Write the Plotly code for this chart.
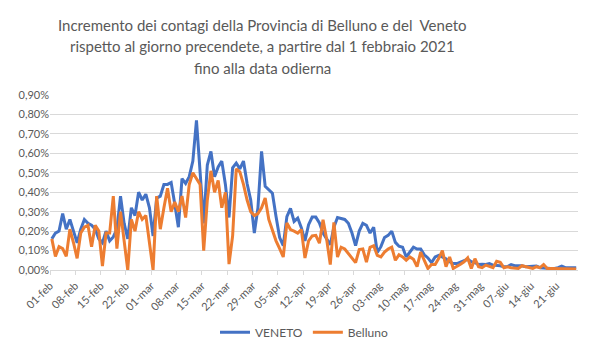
import pandas as pd
import plotly.graph_objects as go

start_date = "2021-02-01"

veneto = [
    0.16, 0.19, 0.20, 0.29, 0.21, 0.26, 0.20, 0.14, 0.21, 0.26,
    0.24, 0.23, 0.21, 0.16, 0.14, 0.20, 0.15, 0.17, 0.21, 0.38,
    0.24, 0.16, 0.32, 0.28, 0.40, 0.36, 0.39, 0.32, 0.175, 0.37,
    0.38, 0.44, 0.44, 0.45, 0.34, 0.22, 0.47, 0.445, 0.48, 0.56,
    0.77, 0.50, 0.24, 0.54, 0.61, 0.48, 0.53, 0.56, 0.44, 0.27,
    0.525, 0.55, 0.52, 0.56, 0.445, 0.36, 0.19, 0.32, 0.61, 0.43,
    0.41, 0.395, 0.275, 0.167, 0.125, 0.275, 0.317, 0.25, 0.267, 0.217,
    0.15, 0.233, 0.272, 0.272, 0.242, 0.19, 0.16, 0.13, 0.22, 0.27,
    0.265, 0.26, 0.24, 0.19, 0.125, 0.20, 0.24, 0.23, 0.19, 0.22,
    0.09, 0.12, 0.167, 0.178, 0.20, 0.142, 0.122, 0.117, 0.067, 0.092,
    0.117, 0.108, 0.108, 0.078, 0.062, 0.038, 0.067, 0.075, 0.067, 0.058,
    0.042, 0.033, 0.033, 0.04, 0.05, 0.055, 0.042, 0.038, 0.028, 0.03,
    0.028, 0.033, 0.025, 0.025, 0.022, 0.017, 0.018, 0.028, 0.022, 0.022,
    0.022, 0.017, 0.017, 0.018, 0.02, 0.012, 0.01, 0.008, 0.008, 0.008,
    0.012, 0.02, 0.012, 0.012, 0.012, 0.012,
]

belluno = [
    0.16, 0.07, 0.12, 0.11, 0.07, 0.21, 0.14, 0.06, 0.19, 0.22,
    0.23, 0.12, 0.23, 0.20, 0.02, 0.19, 0.19, 0.38, 0.11, 0.30,
    0.15, 0.00, 0.26, 0.20, 0.30, 0.26, 0.28, 0.14, 0.00, 0.38,
    0.21, 0.32, 0.42, 0.30, 0.35, 0.30, 0.38, 0.27, 0.44, 0.50,
    0.47, 0.44, 0.10, 0.36, 0.51, 0.40, 0.46, 0.32, 0.40, 0.03,
    0.175, 0.52, 0.505, 0.44, 0.36, 0.30, 0.28, 0.29, 0.32, 0.37,
    0.26, 0.20, 0.15, 0.11, 0.067, 0.242, 0.208, 0.20, 0.19, 0.208,
    0.062, 0.15, 0.175, 0.178, 0.138, 0.258, 0.158, 0.028, 0.245, 0.067,
    0.117, 0.108, 0.083, 0.058, 0.038, 0.105, 0.108, 0.04, 0.117, 0.125,
    0.075, 0.067, 0.092, 0.108, 0.117, 0.05, 0.078, 0.067, 0.05, 0.067,
    0.055, 0.017, 0.092, 0.05, 0.008, 0.028, 0.028, 0.06, 0.10, 0.017,
    0.067, 0.008, 0.017, 0.03, 0.042, 0.062, 0.008, 0.058, 0.017, 0.012,
    0.025, 0.018, 0.012, 0.045, 0.04, 0.012, 0.017, 0.012, 0.01, 0.008,
    0.022, 0.017, 0.012, 0.008, 0.017, 0.012, 0.028, 0.008, 0.008, 0.008,
    0.008, 0.005, 0.005, 0.005, 0.005, 0.005,
]

tick_labels = [
    "01-feb", "08-feb", "15-feb", "22-feb", "01-mar", "08-mar", "15-mar",
    "22-mar", "29-mar", "05-apr", "12-apr", "19-apr", "26-apr", "03-mag",
    "10-mag", "17-mag", "24-mag", "31-mag", "07-giu", "14-giu", "21-giu",
]

title_lines = [
    "Incremento dei contagi della Provincia di Belluno e del  Veneto",
    "rispetto al giorno precendete, a partire dal 1 febbraio 2021",
    "fino alla data odierna",
]

dates = pd.date_range(start_date, periods=len(veneto), freq="D")
half_day = pd.Timedelta(hours=12)
tick_vals = pd.date_range(start_date, periods=len(tick_labels), freq="7D") - half_day

W, H = 602, 359
ML, MR, MT, MB = 50, 24, 95, 84
PW, PH = W - ML - MR, H - MT - MB

FONT = "Lato"
TXT = "#595959"
GRID = "#D9D9D9"

fig = go.Figure()
fig.add_trace(go.Scatter(x=dates, y=veneto, name="VENETO", mode="lines",
                         line=dict(color="#4472C4", width=3)))
fig.add_trace(go.Scatter(x=dates, y=belluno, name="Belluno", mode="lines",
                         line=dict(color="#ED7D31", width=3)))

def px_x(x):
    return (x - ML) / PW

def px_y(y):
    return (H - MB - y) / PH

fig.update_layout(
    width=W, height=H,
    margin=dict(l=ML, r=MR, t=MT, b=MB),
    paper_bgcolor="white", plot_bgcolor="white",
    font=dict(family=FONT, color=TXT, size=11),
    separators=",.",
    showlegend=True,
    legend=dict(orientation="h", x=px_x(304), xanchor="center",
                y=px_y(339), yanchor="middle",
                font=dict(size=12, color=TXT, family=FONT),
                itemwidth=30, tracegroupgap=0),
    xaxis=dict(
        range=[dates[0] - half_day, dates[-1] + half_day],
        tickmode="array", tickvals=tick_vals, ticktext=tick_labels,
        tickangle=-45, showgrid=False, showline=True, linecolor=GRID,
        linewidth=1, ticks="outside", ticklen=4, tickcolor=GRID,
        tickfont=dict(size=11, color=TXT, family=FONT), zeroline=False,
    ),
    yaxis=dict(
        range=[0, 0.9], dtick=0.1, tick0=0, tickformat=".2f", ticksuffix="%",
        showgrid=True, gridcolor=GRID, gridwidth=1, zeroline=False,
        showline=False, ticks="", tickfont=dict(size=11, color=TXT, family=FONT),
    ),
)

for i, line in enumerate(title_lines):
    fig.add_annotation(text=line, xref="paper", yref="paper",
                       x=px_x(262), y=px_y(23 + 22 * i), xanchor="center",
                       yanchor="middle", showarrow=False,
                       font=dict(size=15, color=TXT, family=FONT))

post = (
    "document.body.style.margin='0';"
    "document.body.style.overflow='hidden';"
    "var g=document.querySelector('.plotly-graph-div');"
    "if(g){g.style.outline='1px solid #D9D9D9';g.style.outlineOffset='-2px';}"
)

fig.write_html("out.html", config={"displayModeBar": False}, post_script=post)
